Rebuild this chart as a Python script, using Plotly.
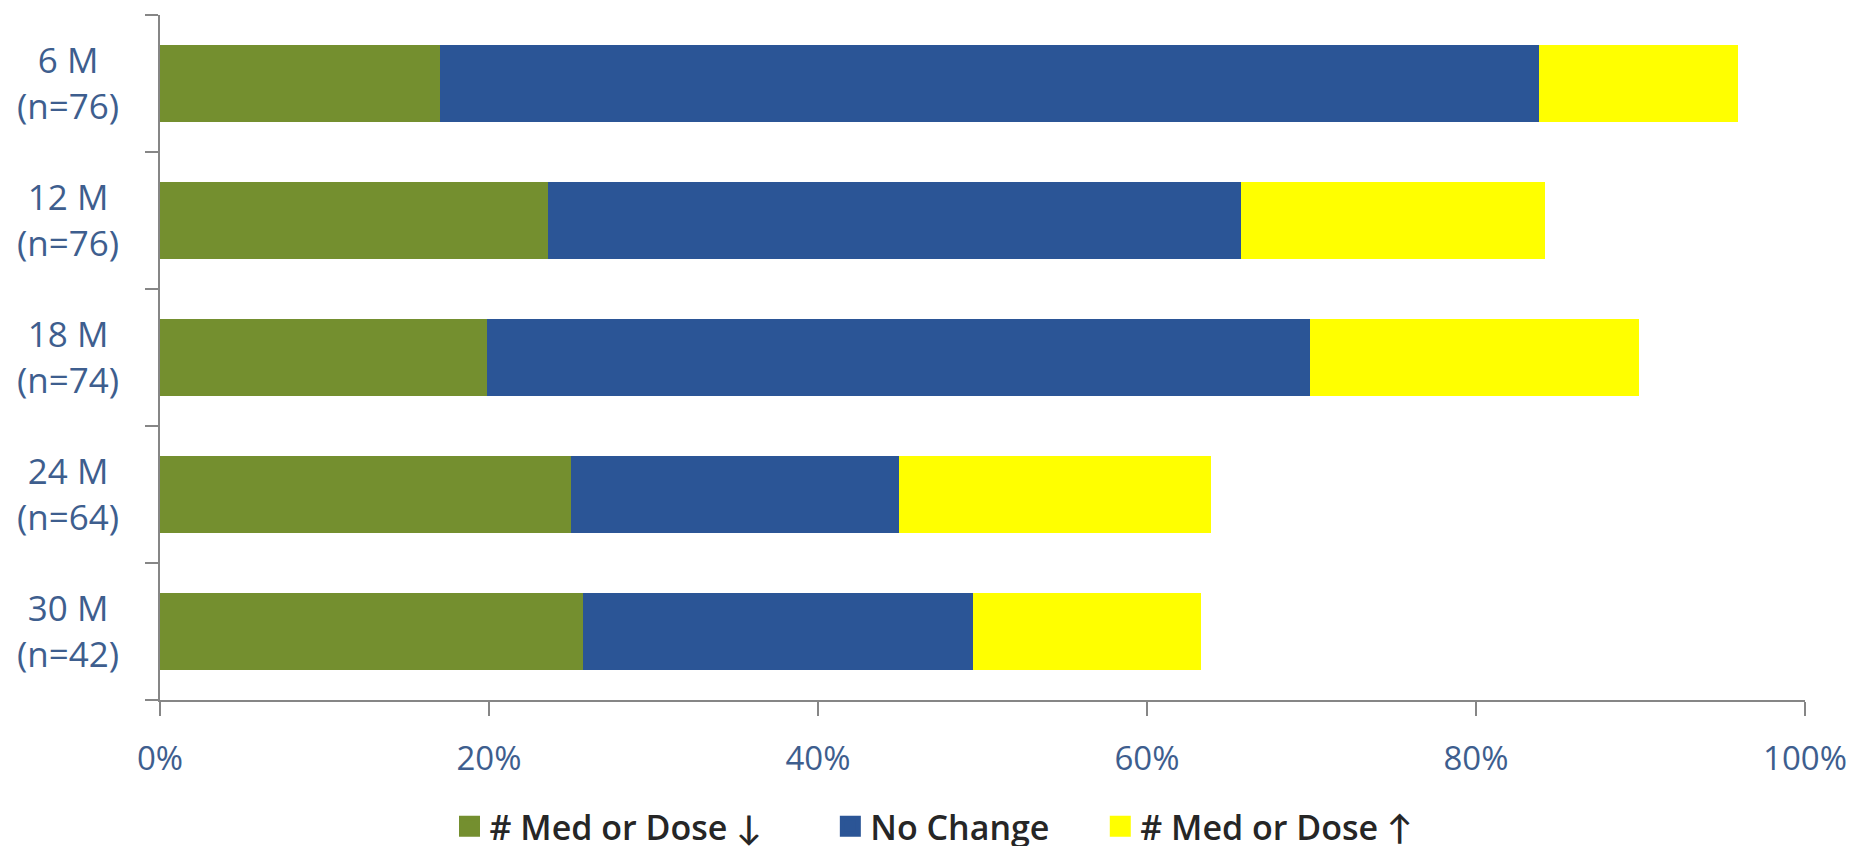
import plotly.graph_objects as go

# Follow-up time points and sample sizes
periods = ["6 M", "12 M", "18 M", "24 M", "30 M"]
sample_sizes = ["(n=76)", "(n=76)", "(n=74)", "(n=64)", "(n=42)"]

# Share of patients (%) in each medication-change group
med_decrease = [17.0, 23.6, 19.9, 25.0, 25.7]
no_change = [66.8, 42.1, 50.0, 19.9, 23.7]
med_increase = [12.1, 18.5, 20.0, 19.0, 13.9]

series_names = ["# Med or Dose \u2193", "No Change", "# Med or Dose \u2191"]
series_colors = ["#748F2F", "#2B5596", "#FFFF00"]

LABEL_COLOR = "#3E5E8E"
FONT = "'Open Sans', Lato, sans-serif"
AXIS_GREY = "#868686"

fig = go.Figure()
legend_ids = ["legend", "legend2", "legend3"]
for name, vals, color, lg in zip(series_names, [med_decrease, no_change, med_increase],
                                 series_colors, legend_ids):
    fig.add_trace(go.Bar(
        y=periods,
        x=[v / 100 for v in vals],
        orientation="h",
        name=name,
        marker=dict(color=color, line=dict(width=0)),
        showlegend=False,
    ))
    # Legend key: larger square swatch for each series
    fig.add_trace(go.Scatter(
        x=[None], y=[None], mode="markers", name=name,
        marker=dict(symbol="square", size=24, color=color,
                    line=dict(color=color, width=5)),
        legend=lg, showlegend=True,
    ))

# Two-line category labels, centred left of the axis
for p, n in zip(periods, sample_sizes):
    fig.add_annotation(
        x=0, xref="paper", y=p, yref="y",
        text=f"{p}<br>{n}",
        showarrow=False, xanchor="center", yanchor="middle",
        xshift=-92, yshift=1, align="center",
        font=dict(family=FONT, size=35, color=LABEL_COLOR),
    )

legend_style = dict(
    orientation="h", yanchor="middle", y=-0.185, xanchor="left",
    font=dict(family=FONT, size=34, color="#262626", weight=600),
    bgcolor="rgba(0,0,0,0)", itemwidth=30, itemsizing="trace",
)
legend_x = [0.176, 0.4075, 0.5716]

fig.update_layout(
    barmode="stack",
    bargap=0.44,
    width=1854, height=846,
    margin=dict(l=160, r=49, t=15, b=146, autoexpand=False),
    paper_bgcolor="white", plot_bgcolor="white",
    showlegend=True,
    legend=dict(x=legend_x[0], **legend_style),
    legend2=dict(x=legend_x[1], **legend_style),
    legend3=dict(x=legend_x[2], **legend_style),
    xaxis=dict(
        range=[0, 1], dtick=0.2, tickformat=".0%",
        showgrid=False, zeroline=False,
        showline=True, linecolor=AXIS_GREY, linewidth=2,
        ticks="outside", ticklen=14, tickcolor=AXIS_GREY, tickwidth=2,
        ticklabelstandoff=14,
        tickfont=dict(family=FONT, size=33, color=LABEL_COLOR),
    ),
    yaxis=dict(
        categoryorder="array", categoryarray=periods[::-1],
        showgrid=False, zeroline=False,
        showline=True, linecolor=AXIS_GREY, linewidth=2,
        ticks="outside", ticklen=13, tickcolor=AXIS_GREY, tickwidth=2,
        tickson="boundaries", showticklabels=False,
    ),
)

fig.write_html("out.html")
